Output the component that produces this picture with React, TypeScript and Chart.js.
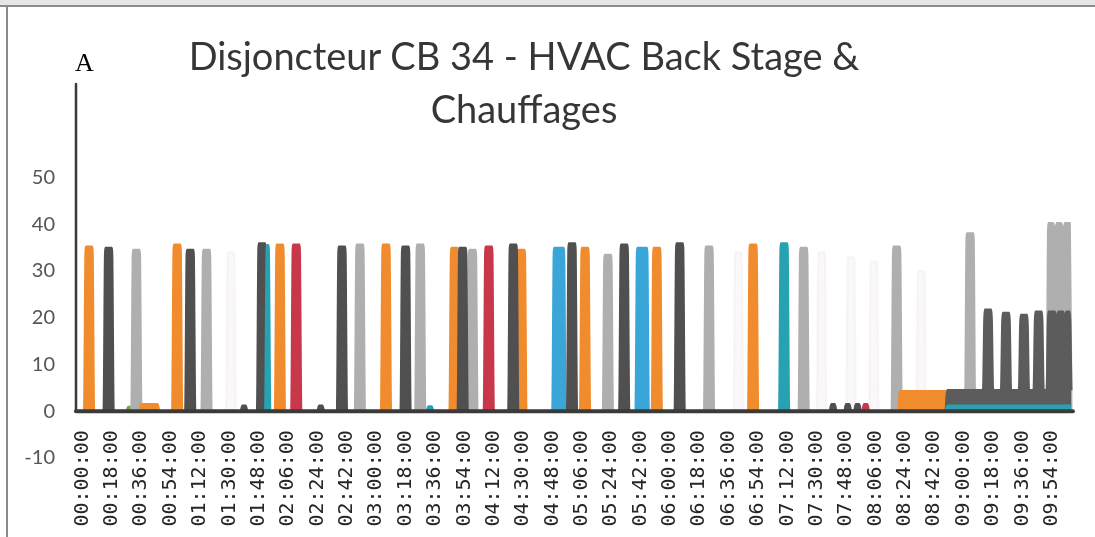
import React, { useEffect, useRef } from 'react';
import { Chart, registerables } from 'chart.js';

Chart.register(...registerables);

// X tick labels (every 18 minutes)
const tickLabels = [
  '00:00:00', '00:18:00', '00:36:00', '00:54:00', '01:12:00', '01:30:00', '01:48:00',
  '02:06:00', '02:24:00', '02:42:00', '03:00:00', '03:18:00', '03:36:00', '03:54:00',
  '04:12:00', '04:30:00', '04:48:00', '05:06:00', '05:24:00', '05:42:00', '06:00:00',
  '06:18:00', '06:36:00', '06:54:00', '07:12:00', '07:30:00', '07:48:00', '08:06:00',
  '08:24:00', '08:42:00', '09:00:00', '09:18:00', '09:36:00', '09:54:00',
];

// Series as [minute, value] readings
const orangeSeries = [
  [0, 0], [1, 0], [2, 35.2], [6, 35.2], [7, 0],
  [35, 0], [36, 1.5], [46, 1.5], [47, 0],
  [55, 0], [56, 35.6], [60, 35.6], [61, 0],
  [118, 0], [119, 35.6], [123, 35.6], [124, 0],
  [183, 0], [184, 35.6], [188, 35.6], [189, 0],
  [225, 0], [226, 34.9], [230, 34.9], [231, 0],
  [266, 0], [267, 34.5], [271, 34.5], [272, 0],
  [305, 0], [306, 34.9], [310, 34.9], [311, 0],
  [349, 0], [350, 34.9], [354, 34.9], [355, 0],
  [408, 0], [409, 35.6], [413, 35.6], [414, 0],
  [500, 0], [501, 4.3], [530, 4.3], [531, 0], [606, 0],
];

const darkSeries = [
  [0, 0], [13, 0], [14, 34.9], [18, 34.9], [19, 0],
  [63, 0], [64, 34.5], [68, 34.5], [69, 0],
  [97, 0], [98, 1.2], [100, 1.2], [101, 0],
  [107, 0], [108, 35.9], [112, 35.9], [113, 0],
  [144, 0], [145, 1.2], [147, 1.2], [148, 0],
  [156, 0], [157, 35.2], [161, 35.2], [162, 0],
  [195, 0], [196, 35.2], [200, 35.2], [201, 0],
  [230, 0], [231, 34.9], [235, 34.9], [236, 0],
  [261, 0], [262, 35.6], [266, 35.6], [267, 0],
  [297, 0], [298, 35.9], [302, 35.9], [303, 0],
  [329, 0], [330, 35.6], [334, 35.6], [335, 0],
  [363, 0], [364, 35.9], [368, 35.9], [369, 0],
  [458, 0], [459, 1.5], [461, 1.5], [462, 0],
  [467, 0], [468, 1.5], [470, 1.5], [471, 0],
  [473, 0], [474, 1.5], [476, 1.5], [477, 0],
  [606, 0],
];

const dark2Series = [
  [0, 0], [529, 0], [530, 4.5],
  [552, 4.5], [553, 21.7], [557, 21.7], [558, 4.5],
  [563, 4.5], [564, 21], [568, 21], [569, 4.5],
  [574, 4.5], [575, 20.6], [579, 20.6], [580, 4.5],
  [583, 4.5], [584, 21.3], [588, 21.3], [589, 4.5],
  [591, 4.5], [592, 21.3], [596, 21.3], [597, 19], [598, 21.3],
  [601, 21.3], [602, 19.5], [603, 21.3], [605, 21.3], [606, 4.5],
];

const lightSeries = [
  [0, 0], [30, 0], [31, 34.5], [35, 34.5], [36, 0],
  [73, 0], [74, 34.5], [78, 34.5], [79, 0],
  [167, 0], [168, 35.6], [172, 35.6], [173, 0],
  [204, 0], [205, 35.6], [209, 35.6], [210, 0],
  [236, 0], [237, 34.5], [241, 34.5], [242, 0],
  [319, 0], [320, 33.4], [324, 33.4], [325, 0],
  [381, 0], [382, 35.2], [386, 35.2], [387, 0],
  [439, 0], [440, 34.9], [444, 34.9], [445, 0],
  [496, 0], [497, 35.2], [501, 35.2], [502, 0],
  [541, 0], [542, 38], [546, 38], [547, 0],
  [591, 0], [592, 40.2], [595, 40.2], [596, 37], [597, 40.2],
  [600, 40.2], [601, 37], [602, 40.2], [605, 40.2], [606, 0],
];

const redSeries = [
  [0, 0], [128, 0], [129, 35.6], [133, 35.6], [134, 0],
  [246, 0], [247, 35.2], [251, 35.2], [252, 0],
  [478, 0], [479, 1.5], [481, 1.5], [482, 0], [606, 0],
];

const blueSeries = [
  [0, 0], [288, 0], [289, 34.9], [295, 34.9], [296, 0],
  [339, 0], [340, 34.9], [346, 34.9], [347, 0], [606, 0],
];

const tealSeries = [
  [0, 0], [112, 0], [113, 35.5], [114, 35.5], [115, 0],
  [211, 0], [212, 1], [214, 1], [215, 0],
  [427, 0], [428, 35.9], [432, 35.9], [433, 0],
  [529, 0], [530, 1.2], [606, 1.2],
];

const greenSeries = [
  [0, 0], [27, 0], [28, 0.9], [30, 0.9], [31, 0],
  [196, 0], [197, 0.9], [199, 0.9], [200, 0], [606, 0],
];

const faintSeries = [
  [0, 0], [88, 0], [89, 34], [93, 34], [94, 0],
  [399, 0], [400, 34], [404, 34], [405, 0],
  [450, 0], [451, 34], [455, 34], [456, 0],
  [468, 0], [469, 33], [473, 33], [474, 0],
  [482, 0], [483, 32], [487, 32], [488, 0],
  [511, 0], [512, 30], [516, 30], [517, 0], [606, 0],
];

const axisLinesPlugin = {
  id: 'axisLines',
  afterDatasetsDraw(chart: any) {
    const { ctx, chartArea, scales } = chart;
    const y0 = scales.y.getPixelForValue(0);
    ctx.save();
    ctx.strokeStyle = '#3a3a3a';
    ctx.lineCap = 'round';
    ctx.lineWidth = 2.5;
    ctx.beginPath();
    ctx.moveTo(chartArea.left, chartArea.top);
    ctx.lineTo(chartArea.left, y0);
    ctx.stroke();
    ctx.lineWidth = 4;
    ctx.beginPath();
    ctx.moveTo(chartArea.left, y0);
    ctx.lineTo(chartArea.right, y0);
    ctx.stroke();
    ctx.restore();
  },
};

function makeSet(label: string, data: number[][], color: string, order: number) {
  return {
    label,
    data,
    borderColor: color,
    backgroundColor: color,
    borderWidth: 2.5,
    pointRadius: 0,
    fill: 'origin',
    cubicInterpolationMode: 'monotone' as const,
    borderJoinStyle: 'round' as const,
    order,
  };
}

export default function App() {
  const canvasRef = useRef<HTMLCanvasElement | null>(null);

  useEffect(() => {
    if (!canvasRef.current) return;
    const chart = new Chart(canvasRef.current, {
      type: 'line',
      data: {
        datasets: [
          makeSet('Teal', tealSeries, '#27a2b2', 0),
          makeSet('Dark 2', dark2Series, '#5c5c5c', 1),
          makeSet('Dark', darkSeries, '#505050', 2),
          makeSet('Red', redSeries, '#c8374a', 3),
          makeSet('Blue', blueSeries, '#3aa6d8', 4),
          makeSet('Orange', orangeSeries, '#f18c2e', 5),
          makeSet('Light', lightSeries, '#afafaf', 6),
          makeSet('Green', greenSeries, '#6daa45', 7),
          makeSet('Faint', faintSeries, 'rgba(226,214,220,0.18)', 8),
        ] as any,
      },
      options: {
        responsive: false,
        animation: false,
        layout: { padding: { left: 25, right: 15, top: 84, bottom: 79 } },
        plugins: {
          legend: { display: false },
          title: { display: false },
          tooltip: { enabled: false },
        },
        scales: {
          x: {
            type: 'linear',
            min: -4,
            max: 607,
            position: { y: 0 } as any,
            grid: { display: false, drawTicks: false },
            border: { display: false },
            ticks: {
              stepSize: 18,
              includeBounds: false,
              autoSkip: false,
              minRotation: 90,
              maxRotation: 90,
              padding: 19,
              color: '#262626',
              font: { family: 'DejaVu Sans Mono', size: 20 },
              callback: (v: any) => tickLabels[Math.round(Number(v) / 18)] ?? '',
            },
          },
          y: {
            min: -10,
            max: 70,
            grid: { display: false, drawTicks: false },
            border: { display: false },
            afterFit: (s: any) => {
              s.width = 51;
            },
            ticks: {
              stepSize: 10,
              padding: 21,
              color: '#555555',
              font: { family: 'Lato', size: 20 },
              callback: (v: any) => (Number(v) > 50 ? '' : String(v)),
            },
          },
        },
      } as any,
      plugins: [axisLinesPlugin],
    });
    return () => chart.destroy();
  }, []);

  return (
    <div
      style={{
        position: 'fixed',
        left: 0,
        top: 0,
        width: 1095,
        height: 537,
        background: '#ffffff',
        overflow: 'hidden',
      }}
    >
      <div style={{ position: 'absolute', left: 0, top: 0, width: 1095, height: 5, background: '#e6e6e6' }} />
      <div style={{ position: 'absolute', left: 0, top: 5, width: 1095, height: 2, background: '#8a8a8a' }} />
      <div style={{ position: 'absolute', left: 6, top: 5, width: 2, height: 532, background: '#8a8a8a' }} />
      <canvas
        ref={canvasRef}
        width={1095}
        height={537}
        style={{ position: 'absolute', left: 0, top: 0, width: 1095, height: 537 }}
      />
      <div
        style={{
          position: 'absolute',
          left: 0,
          top: 29,
          width: 1048,
          textAlign: 'center',
          fontFamily: 'Lato, sans-serif',
          fontSize: 38,
          lineHeight: '53px',
          color: '#363636',
          whiteSpace: 'nowrap',
        }}
      >
        Disjoncteur CB 34 - HVAC Back Stage &amp;
        <br />
        Chauffages
      </div>
      <div
        style={{
          position: 'absolute',
          left: 75,
          top: 50,
          fontFamily: '"Liberation Serif", serif',
          fontSize: 26,
          lineHeight: '26px',
          color: '#000000',
        }}
      >
        A
      </div>
    </div>
  );
}
